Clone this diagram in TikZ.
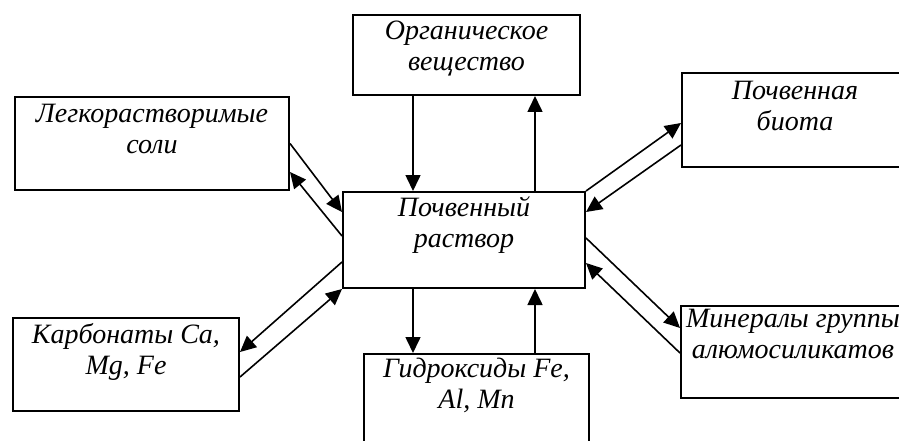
\documentclass[tikz,border=0pt]{standalone}
\usepackage{fontspec}
\setmainfont{Liberation Serif}
\usetikzlibrary{arrows.meta}
\begin{document}
\begin{tikzpicture}[x=1pt,y=1pt,yscale=-1,
  box/.style={draw, line width=2, inner sep=0},
  lbl/.style={anchor=north, align=center, inner sep=0, font=\fontsize{28}{31}\selectfont\itshape},
  arr/.style={line width=1.6, -{Triangle[length=16pt,width=15pt]}}]
\useasboundingbox (0,0) rectangle (899,441);

%Shape: Rectangle
\node [box, minimum width=227, minimum height=80] (organic) at (466.5,55) {};
\node [box, minimum width=274, minimum height=93] (salts) at (152,143.5) {};
\node [box, minimum width=226, minimum height=94] (biota) at (795,120) {};
\node [box, minimum width=242, minimum height=96] (soil) at (464,240) {};
\node [box, minimum width=226, minimum height=93] (carb) at (126,364.5) {};
\node [box, minimum width=225, minimum height=96] (hydrox) at (476.5,402) {};
\node [box, minimum width=224, minimum height=92] (miner) at (793,352) {};

% Text Node
\node [lbl] (organictxt) at ([yshift=7]organic.north) {Органическое\\вещество};
% Text Node
\node [lbl] (saltstxt) at ([yshift=8]salts.north) {Легкорастворимые\\соли};
% Text Node
\node [lbl] (biotatxt) at ([yshift=9]biota.north) {Почвенная\\биота};
% Text Node
\node [lbl] (soiltxt) at ([yshift=5]soil.north) {Почвенный\\раствор};
% Text Node
\node [lbl] (carbtxt) at ([yshift=6]carb.north) {Карбонаты Ca,\\Mg, Fe};
% Text Node
\node [lbl] (hydroxtxt) at ([yshift=5]hydrox.north) {Гидроксиды Fe,\\Al, Mn};
% Text Node
\node [lbl] (minertxt) at ([yshift=4]miner.north) {Минералы группы\\алюмосиликатов};

%Straight Lines
\draw [arr] ([xshift=-53.5]organic.south) -- ([xshift=-53.5]organic.south |- soil.north);
\draw [arr] ([xshift=71]soil.north) -- ([xshift=71]soil.north |- organic.south);
\draw [arr] ([xshift=-51]soil.south) -- ([xshift=-51]soil.south |- hydrox.north);
\draw [arr] ([xshift=58.5]hydrox.north) -- ([xshift=58.5]hydrox.north |- soil.south);

%Straight Lines
\draw [arr] (salts.east) -- ([yshift=-28]soil.west);
\draw [arr] ([yshift=-4]soil.west) -- ([yshift=28.5]salts.east);
\draw [arr] ([yshift=22]soil.west) -- ([yshift=-12.5]carb.east);
\draw [arr] ([yshift=12.5]carb.east) -- (soil.south west);
\draw [arr] (soil.north east) -- ([yshift=3]biota.west);
\draw [arr] ([yshift=25]biota.west) -- ([yshift=-28]soil.east);
\draw [arr] ([yshift=-2]soil.east) -- ([yshift=-24]miner.west);
\draw [arr] ([yshift=1]miner.west) -- ([yshift=23]soil.east);

\end{tikzpicture}
\end{document}
